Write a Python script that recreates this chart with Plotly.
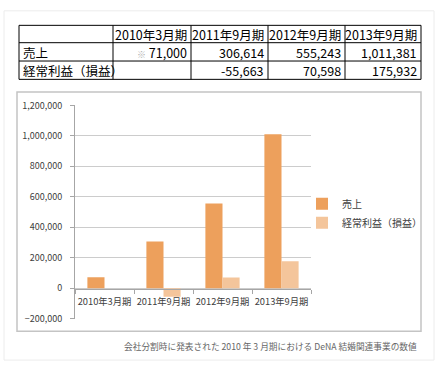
import plotly.graph_objects as go

periods = ["2010年3月期", "2011年9月期", "2012年9月期", "2013年9月期"]
sales = [71000, 306614, 555243, 1011381]
profit = [None, -55663, 70598, 175932]
row_labels = ["売上", "経常利益（損益）"]
series_names = ["売上", "経常利益（損益）"]
y_ticks = [-200000, 0, 200000, 400000, 600000, 800000, 1000000, 1200000]
note = "会社分割時に発表された 2010 年 3 月期における DeNA 結婚関連事業の数値"
sales_mark = "※"

W, H = 438, 369
def px(x): return x / W
def py(y): return (H - y) / H

def fmt(v):
    return "" if v is None else f"{v:,}"

FONT = "Noto Sans CJK JP, sans-serif"
TFONT = dict(family=FONT, size=12.5, color="black")

# table geometry (pixels)
col_edges = [19, 113, 191, 268, 345, 421]
row_edges = [19, 37, 56, 75]

shapes = [
    dict(type="rect", xref="paper", yref="paper", x0=px(4), x1=px(434), y0=py(366), y1=py(4),
         line=dict(color="#ececec", width=1), fillcolor="rgba(0,0,0,0)", layer="below"),
    dict(type="rect", xref="paper", yref="paper", x0=px(17), x1=px(421), y0=py(336), y1=py(88),
         line=dict(color="#c4c4c4", width=1.5), fillcolor="rgba(0,0,0,0)", layer="below"),
]
for x in col_edges:
    shapes.append(dict(type="line", xref="paper", yref="paper", x0=px(x), x1=px(x),
                       y0=py(row_edges[0]), y1=py(row_edges[-1]), line=dict(color="black", width=1)))
for y in row_edges:
    shapes.append(dict(type="line", xref="paper", yref="paper", x0=px(col_edges[0]), x1=px(col_edges[-1]),
                       y0=py(y), y1=py(y), line=dict(color="black", width=1)))

annotations = []
def cell(text, col, row, align):
    yc = (row_edges[row] + row_edges[row + 1]) / 2
    if align == "left":
        x, xa = col_edges[col] + 2, "left"
    else:
        x, xa = col_edges[col + 1] - 2, "right"
    annotations.append(dict(text=text, xref="paper", yref="paper", x=px(x), y=py(yc + 0.5),
                            xanchor=xa, yanchor="middle", showarrow=False, font=TFONT))

for i, p in enumerate(periods):
    cell(p, i + 1, 0, "right")
for r, lab in enumerate(row_labels):
    cell(lab, 0, r + 1, "left")
for i in range(len(periods)):
    s = fmt(sales[i])
    if i == 0:
        s = "<span style=\"color:#b0b0b0;font-size:9px\">" + sales_mark + "</span> " + s
    cell(s, i + 1, 1, "right")
    if profit[i] is not None:
        cell(fmt(profit[i]), i + 1, 2, "right")

annotations.append(dict(text=note, xref="paper", yref="paper", x=px(419), y=py(352),
                        xanchor="right", yanchor="middle", showarrow=False,
                        font=dict(size=8.7, color="#666666")))

fig = go.Figure()
fig.add_trace(go.Bar(x=periods, y=sales, name=series_names[0],
                     marker=dict(color="#EDA05C", line=dict(width=0))))
fig.add_trace(go.Bar(x=periods, y=profit, name=series_names[1],
                     marker=dict(color="#F4C59B", line=dict(width=0))))

fig.update_layout(
    width=W, height=H,
    margin=dict(l=0, r=0, t=0, b=0),
    paper_bgcolor="white", plot_bgcolor="white",
    font=dict(family=FONT, size=9, color="#404040"),
    barmode="group", bargap=0.42, bargroupgap=0,
    showlegend=True,
    legend=dict(x=px(302), y=py(189), xanchor="left", yanchor="top",
                font=dict(size=10, color="#404040"), bgcolor="rgba(0,0,0,0)",
                itemwidth=30),
    xaxis=dict(domain=[px(75), px(311)], anchor="free", position=py(292),
               showgrid=False, showline=True, linecolor="#a6a6a6", linewidth=1,
               ticks="outside", tickson="boundaries", ticklen=4, tickcolor="#a6a6a6",
               ticklabelstandoff=4,
               tickangle=0, tickfont=dict(size=9.3, color="#404040"), fixedrange=True),
    yaxis=dict(domain=[py(323), py(102)], range=[-200000, 1200000],
               tickvals=y_ticks, tickformat=",d",
               showgrid=True, gridcolor="#cccccc", gridwidth=1.3,
               zeroline=False, showline=True, linecolor="#a6a6a6",
               ticks="outside", ticklen=4, tickcolor="#a6a6a6",
               ticklabelstandoff=6,
               tickfont=dict(size=9, color="#404040")),
    shapes=shapes,
    annotations=annotations,
)

fig.write_html("out.html", config={"displayModeBar": False},
               post_script="document.body.style.margin='0';")
